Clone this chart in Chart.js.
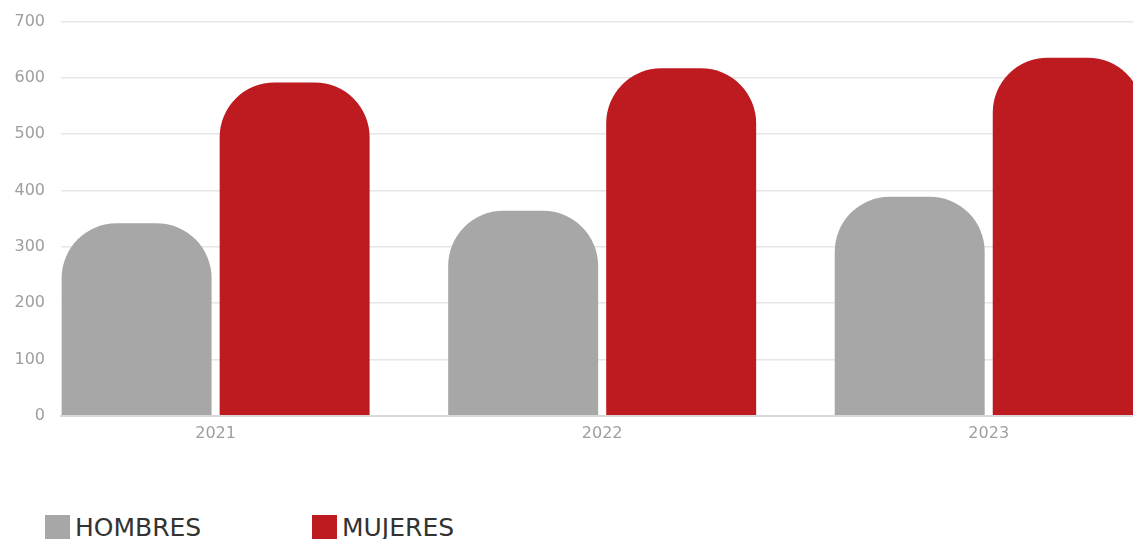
<!DOCTYPE html>
<html>
<head>
<meta charset="utf-8">
<script src="https://cdn.jsdelivr.net/npm/chart.js@4/dist/chart.umd.min.js"></script>
<style>
  html, body { margin: 0; padding: 0; background: #fff; overflow: hidden; width: 1133px; height: 539px; }
  #wrap { position: relative; width: 1133px; height: 539px; overflow: hidden; }
  canvas { position: absolute; left: 0; top: -4px; }
  #legend { position: absolute; left: 45px; top: 515px; font-family: "DejaVu Sans", sans-serif; font-size: 25px; color: #333; }
  .item { position: absolute; top: 0; white-space: nowrap; line-height: 25px; }
  .box { display: inline-block; width: 25px; height: 25px; vertical-align: top; margin-right: 5px; }
</style>
</head>
<body>
<div id="wrap">
  <canvas id="myChart" width="1182" height="455"></canvas>
  <div id="legend"></div>
</div>
<script>
const categories = ['2021', '2022', '2023'];
const hombres = [342, 364, 389];
const mujeres = [592, 617, 636];
const yTicks = [0, 100, 200, 300, 400, 500, 600, 700];

const seriesNames = ['HOMBRES', 'MUJERES'];
const seriesColors = ['#a7a7a7', '#bd1b1f'];

const ctx = document.getElementById('myChart');

new Chart(ctx, {
    type: 'bar',
    data: {
        datasets: [{
            label: seriesNames[0],
            data: hombres.map((v, i) => ({ x: i, y: v })),
            backgroundColor: seriesColors[0],
            borderRadius: 55,
            borderSkipped: 'start',
            categoryPercentage: 0.8176,
            barPercentage: 0.949
        }, {
            label: seriesNames[1],
            data: mujeres.map((v, i) => ({ x: i, y: v })),
            backgroundColor: seriesColors[1],
            borderRadius: 55,
            borderSkipped: 'start',
            categoryPercentage: 0.8176,
            barPercentage: 0.949
        }]
    },
    options: {
        responsive: false,
        animation: false,
        devicePixelRatio: 1,
        layout: { padding: { top: 14, left: 0, right: 0, bottom: 0 } },
        plugins: {
            legend: { display: false },
            tooltip: { enabled: false }
        },
        scales: {
            x: {
                type: 'linear',
                offset: false,
                min: -0.4,
                max: 2.5,
                afterBuildTicks: scale => {
                    scale.ticks = categories.map((c, i) => ({ value: i }));
                },
                ticks: {
                    callback: v => categories[v],
                    color: '#9e9e9e',
                    font: { family: 'DejaVu Sans', size: 16 },
                    padding: 8,
                    maxRotation: 0
                },
                grid: { display: false, drawTicks: false },
                border: { display: true, color: '#d9d9d9', width: 2 }
            },
            y: {
                min: 0,
                max: 700,
                afterBuildTicks: scale => {
                    scale.ticks = yTicks.map(v => ({ value: v }));
                },
                afterFit: scale => { scale.width = 61; },
                ticks: {
                    color: '#9e9e9e',
                    font: { family: 'DejaVu Sans', size: 16 },
                    padding: 16
                },
                grid: { color: '#e6e6e6', lineWidth: 1.5, drawTicks: false },
                border: { display: false }
            }
        }
    }
});

const legend = document.getElementById('legend');
const legendX = [0, 267];
seriesNames.forEach((name, i) => {
    const item = document.createElement('div');
    item.className = 'item';
    item.style.left = legendX[i] + 'px';
    const box = document.createElement('span');
    box.className = 'box';
    box.style.background = seriesColors[i];
    item.appendChild(box);
    item.appendChild(document.createTextNode(name));
    legend.appendChild(item);
});
</script>
</body>
</html>
